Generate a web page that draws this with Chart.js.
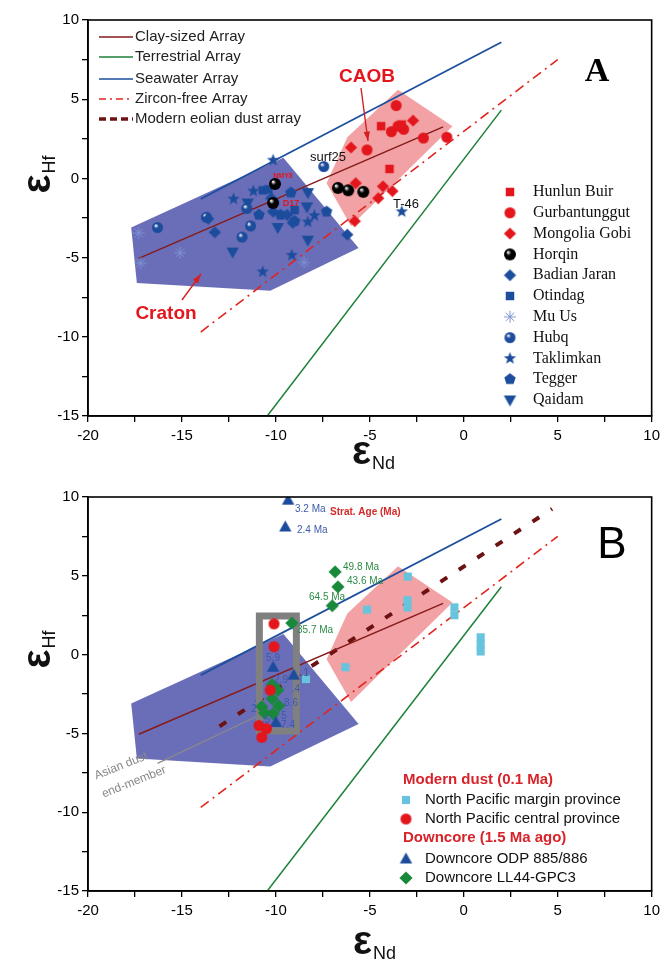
<!DOCTYPE html>
<html lang="en">
<head>
<meta charset="UTF-8" />
<title>εHf vs εNd</title>
<style>
  body { margin: 0; background: #fff; }
  #wrap { position: relative; width: 665px; height: 965px; }
  canvas { position: absolute; left: 0; }
  #chartA { top: 0; }
  #chartB { top: 470px; }
</style>
</head>
<body>
<div id="wrap">
  <canvas id="chartA" width="665" height="470"></canvas>
  <canvas id="chartB" width="665" height="495"></canvas>
</div>

<script src="https://cdn.jsdelivr.net/npm/chart.js@4"></script>
<script>
// ---- reference arrays (εNd on x, εHf on y) ----
const clayX = [-17.3, -1.1],   clayY = [-5.05, 3.25];
const terrX = [-10.46, 2.0],   terrY = [-15, 4.31];
const seaX  = [-14, 2],        seaY  = [-1.3, 8.6];
const zircX = [-14, 5],        zircY = [-9.7, 7.5];
const dustX = [-13, 4.7],      dustY = [-4.55, 9.25];
const asianX = [-16.3, -10.8], asianY = [-6.9, -3.8];

const cratonX = [-17.7, -17.4, -10.3, -5.6, -9.6, -17.7];
const cratonY = [-3.1, -6.6, -7.1, -4.4, 1.3, -3.1];
const caobX = [-3.5, -0.6, -6.0, -7.3, -6.2, -3.5];
const caobY = [5.6, 3.3, -3.0, -0.3, 2.6, 5.6];

// panel A sources
const hunlunX = [-4.4, -3.95, -3.3];            const hunlunY = [3.3, 0.6, 3.4];
const gurbanX = [-3.6, -3.85, -3.2, -5.15, -2.15, -0.9, -3.5];
const gurbanY = [4.6, 2.95, 3.1, 1.8, 2.55, 2.6, 3.3];
const gobiX = [-2.7, -6.0, -5.75, -4.3, -3.8, -4.55, -5.8];
const gobiY = [3.65, 1.95, -0.3, -0.5, -0.8, -1.25, -2.7];
const horqinX = [-6.7, -6.15, -5.35, -10.05, -10.15];
const horqinY = [-0.6, -0.75, -0.85, -0.35, -1.55];
const badianX = [-13.25, -10.25, -9.1, -6.2, -10.15, -13.6, -9.4];
const badianY = [-3.4, -1.25, -2.8, -3.55, -2.1, -2.55, -2.3];
const otindagX = [-10.7, -9.0, -10.4];          const otindagY = [-0.75, -2.0, -0.7];
const muUsX = [-17.3, -15.1, -17.2, -8.5];      const muUsY = [-3.45, -4.7, -5.35, -5.3];
const hubqX = [-16.3, -13.7, -11.35, -11.8, -7.45, -11.55];
const hubqY = [-3.1, -2.45, -3.0, -3.7, 0.75, -1.9];
const taklimX = [-10.15, -12.25, -11.2, -9.15, -10.7, -8.3, -7.95, -3.3];
const taklimY = [1.15, -1.3, -0.8, -4.85, -5.9, -2.75, -2.35, -2.1];
const teggerX = [-9.2, -10.9, -9.75, -7.3, -9.0];
const teggerY = [-0.9, -2.3, -2.3, -2.1, -2.7];
const qaidamX = [-8.3, -11.5, -9.9, -8.3, -12.3, -8.35];
const qaidamY = [-0.9, -1.55, -3.1, -3.9, -4.65, -1.8];

// panel B
const marginX = [-2.98, -5.15, -3.0, -3.0, -0.5, -0.5, 0.9, 0.9, 0.9, -6.3, -8.4];
const marginY = [4.95, 2.85, 3.45, 3.0, 3.0, 2.5, 1.1, 0.65, 0.2, -0.8, -1.55];
const centralX = [-10.1, -10.1, -10.3, -10.9, -10.5, -10.75];
const centralY = [1.95, 0.5, -2.25, -4.5, -4.7, -5.25];
const odpX = [-9.35, -9.5, -10.15, -9.05, -10.0];
const odpY = [9.8, 8.1, -0.8, -1.3, -4.3];
const gpcX = [-6.85, -6.7, -7.0, -9.15, -10.2, -9.9, -10.2, -9.85, -10.75, -10.6, -10.15];
const gpcY = [5.25, 4.3, 3.1, 2.0, -1.9, -2.25, -2.8, -3.25, -3.3, -3.7, -3.75];
const boxX = [-10.88, -8.91, -8.91, -10.88, -10.88];
const boxY = [2.45, 2.45, -4.85, -4.85, 2.45];

const xTicks = [-20, -15, -10, -5, 0, 5, 10];
const yTicks = [-15, -10, -5, 0, 5, 10];

// ---- colours ----
const RED = '#e3161d', BLUE = '#1c4c9c', GREEN = '#18883a', CYAN = '#68c3dc';
const clayCol = '#861b1b', terrCol = '#1d8038', seaCol = '#1d4f9e', zircCol = '#e2241e', dustCol = '#6c1212';

// ---- marker images ----
function mk(kind, color, r) {
  const s = Math.ceil(2 * r + 4);
  const c = document.createElement('canvas');
  c.width = s; c.height = s;
  const g = c.getContext('2d');
  const m = s / 2;
  g.fillStyle = color; g.strokeStyle = color;
  g.beginPath();
  if (kind === 'circle') g.arc(m, m, r, 0, Math.PI * 2);
  else if (kind === 'square') g.rect(m - r * 0.85, m - r * 0.85, r * 1.7, r * 1.7);
  else if (kind === 'diamond') { g.moveTo(m, m - r * 1.1); g.lineTo(m + r * 1.1, m); g.lineTo(m, m + r * 1.1); g.lineTo(m - r * 1.1, m); }
  else if (kind === 'up') { g.moveTo(m, m - r); g.lineTo(m + r * 0.95, m + r * 0.7); g.lineTo(m - r * 0.95, m + r * 0.7); }
  else if (kind === 'down') { g.moveTo(m, m + r); g.lineTo(m + r * 0.95, m - r * 0.7); g.lineTo(m - r * 0.95, m - r * 0.7); }
  else if (kind === 'pentagon' || kind === 'star') {
    const n = kind === 'star' ? 10 : 5;
    for (let i = 0; i < n; i++) {
      const a = -Math.PI / 2 + i * 2 * Math.PI / n;
      const rr = kind === 'star' && i % 2 ? r * 0.42 : r;
      g.lineTo(m + rr * Math.cos(a), m + rr * Math.sin(a));
    }
  } else if (kind === 'asterisk') {
    g.lineWidth = 1;
    for (let i = 0; i < 4; i++) {
      const a = i * Math.PI / 4;
      g.moveTo(m - r * Math.cos(a), m - r * Math.sin(a));
      g.lineTo(m + r * Math.cos(a), m + r * Math.sin(a));
    }
    g.stroke();
    return c;
  } else if (kind === 'ball') {
    const gr = g.createRadialGradient(m - r * 0.35, m - r * 0.4, r * 0.05, m, m, r);
    gr.addColorStop(0, '#ffffff');
    gr.addColorStop(0.4, color);
    gr.addColorStop(1, color);
    g.fillStyle = gr;
    g.arc(m, m, r, 0, Math.PI * 2);
  }
  g.closePath();
  g.fill();
  return c;
}

const imgHunlun = mk('square', RED, 5);
const imgGurban = mk('circle', RED, 5.5);
const imgGobi = mk('diamond', RED, 5.5);
const imgHorqin = mk('ball', '#000', 6);
const imgBadian = mk('diamond', BLUE, 5.5);
const imgOtindag = mk('square', BLUE, 5);
const imgMuUs = mk('asterisk', '#7f92d2', 6);
const imgHubq = mk('ball', BLUE, 5.5);
const imgTaklim = mk('star', BLUE, 6.5);
const imgTegger = mk('pentagon', BLUE, 6);
const imgQaidam = mk('down', BLUE, 6.5);
const imgMargin = mk('square', CYAN, 4.8);
const imgCentral = mk('circle', RED, 5.5);
const imgOdp = mk('up', BLUE, 6.5);
const imgGpc = mk('diamond', GREEN, 6);

// ---- dataset helpers ----
function pts(xs, ys) { return xs.map((x, i) => ({ x: x, y: ys[i] })); }
function marks(xs, ys, img) {
  return { data: pts(xs, ys), pointStyle: img, pointRadius: 6, showLine: false, order: 0 };
}
function line(xs, ys, color, width, dash) {
  return { data: pts(xs, ys), showLine: true, borderColor: color, borderWidth: width,
           borderDash: dash || [], pointRadius: 0, fill: false, order: 1 };
}
function poly(xs, ys, color) {
  return { data: pts(xs, ys), showLine: true, borderWidth: 0, borderColor: 'rgba(0,0,0,0)',
           backgroundColor: color, fill: 'shape', pointRadius: 0, order: 3 };
}

function scales(xAxisH) {
  const tickFont = { family: '"Liberation Sans", Arial, sans-serif', size: 15 };
  const cb = v => (Math.abs(v % 5) < 1e-9 ? v : '');
  return {
    x: {
      type: 'linear', min: xTicks[0], max: xTicks[xTicks.length - 1],
      ticks: { stepSize: 2.5, autoSkip: false, maxRotation: 0, callback: cb, font: tickFont, color: '#000', padding: 5 },
      grid: { drawOnChartArea: false, color: '#000', tickLength: 6, lineWidth: 1.3 },
      border: { color: '#000', width: 1.6 },
      afterFit: s => { s.height = xAxisH; }
    },
    y: {
      type: 'linear', min: yTicks[0], max: yTicks[yTicks.length - 1],
      ticks: { stepSize: 2.5, autoSkip: false, callback: cb, font: tickFont, color: '#000', padding: 3 },
      grid: { drawOnChartArea: false, color: '#000', tickLength: 6, lineWidth: 1.3 },
      border: { color: '#000', width: 1.6 },
      afterFit: s => { s.width = 88; }
    }
  };
}

// ---- drawing helpers for decorations ----
function txt(ctx, s, x, y, font, color, align, rot) {
  ctx.save();
  ctx.translate(x, y);
  if (rot) ctx.rotate(rot);
  ctx.font = font; ctx.fillStyle = color;
  ctx.textAlign = align || 'center'; ctx.textBaseline = 'middle';
  ctx.fillText(s, 0, 0);
  ctx.restore();
}
function arrow(ctx, x1, y1, x2, y2, color) {
  ctx.save();
  ctx.strokeStyle = color; ctx.fillStyle = color; ctx.lineWidth = 1.4;
  ctx.beginPath(); ctx.moveTo(x1, y1); ctx.lineTo(x2, y2); ctx.stroke();
  const a = Math.atan2(y2 - y1, x2 - x1);
  ctx.beginPath();
  ctx.moveTo(x2, y2);
  ctx.lineTo(x2 - 10 * Math.cos(a - 0.32), y2 - 10 * Math.sin(a - 0.32));
  ctx.lineTo(x2 - 10 * Math.cos(a + 0.32), y2 - 10 * Math.sin(a + 0.32));
  ctx.closePath(); ctx.fill();
  ctx.restore();
}
function epsTitle(ctx, x, y, sub, rotate) {
  ctx.save();
  ctx.translate(x, y);
  if (rotate) ctx.rotate(-Math.PI / 2);
  ctx.fillStyle = '#111';
  ctx.textAlign = 'left'; ctx.textBaseline = 'alphabetic';
  const big = 'bold 40px "Liberation Sans", Arial, sans-serif';
  const sm = '18px "Liberation Sans", Arial, sans-serif';
  ctx.font = big;
  const w1 = ctx.measureText('ε').width;
  ctx.font = sm;
  const w2 = ctx.measureText(sub).width;
  const start = -(w1 + w2) / 2;
  ctx.font = big;
  ctx.fillText('ε', start, 0);
  ctx.font = sm;
  ctx.fillText(sub, start + w1 + 1, 5);
  ctx.restore();
}
function frame(chart) {
  const { ctx, chartArea: a } = chart;
  ctx.save();
  ctx.strokeStyle = '#000'; ctx.lineWidth = 1.6;
  ctx.strokeRect(a.left, a.top, a.right - a.left, a.bottom - a.top);
  ctx.restore();
}

const SANS = '"Liberation Sans", Arial, sans-serif';
const SERIF = '"Liberation Serif", "Times New Roman", serif';

const decoA = {
  id: 'decoA',
  afterDatasetsDraw(chart) {
    const ctx = chart.ctx;
    frame(chart);
    // line legend
    const items = [
      ['Clay-sized Array', clayCol, 1.5, []],
      ['Terrestrial Array', terrCol, 1.5, []],
      ['Seawater Array', seaCol, 1.5, []],
      ['Zircon-free Array', zircCol, 1.5, [7, 4, 2, 4]],
      ['Modern eolian dust array', dustCol, 3.5, [7, 4]]
    ];
    const rows = [37, 57, 79, 99, 119];
    items.forEach((it, i) => {
      ctx.save();
      ctx.strokeStyle = it[1]; ctx.lineWidth = it[2]; ctx.setLineDash(it[3]);
      ctx.beginPath(); ctx.moveTo(99, rows[i]); ctx.lineTo(133, rows[i]); ctx.stroke();
      ctx.restore();
      txt(ctx, it[0], 135, rows[i], '15px ' + SANS, '#222', 'left');
    });
    // marker legend
    const mItems = [
      ['Hunlun Buir', imgHunlun], ['Gurbantunggut', imgGurban], ['Mongolia Gobi', imgGobi],
      ['Horqin', imgHorqin], ['Badian Jaran', imgBadian], ['Otindag', imgOtindag],
      ['Mu Us', imgMuUs], ['Hubq', imgHubq], ['Taklimkan', imgTaklim],
      ['Tegger', imgTegger], ['Qaidam', imgQaidam]
    ];
    mItems.forEach((it, i) => {
      const y = 192 + i * 20.8;
      ctx.drawImage(it[1], 510 - it[1].width / 2, y - it[1].height / 2);
      txt(ctx, it[0], 533, y, '16px ' + SERIF, '#111', 'left');
    });
    // annotations
    txt(ctx, 'CAOB', 367, 77, 'bold 19px ' + SANS, RED);
    arrow(ctx, 361, 88, 368, 141, '#d42020');
    txt(ctx, 'Craton', 166, 314, 'bold 19px ' + SANS, RED);
    arrow(ctx, 182, 300, 201, 274, '#d42020');
    txt(ctx, 'surf25', 328, 157, '13px ' + SANS, '#111');
    txt(ctx, 'NMY8', 283, 176, 'bold 7px ' + SANS, RED);
    txt(ctx, 'D17', 291, 204, 'bold 9px ' + SANS, RED);
    txt(ctx, 'T-46', 406, 204, '13px ' + SANS, '#111');
    txt(ctx, 'A', 597, 72, 'bold 34px ' + SERIF, '#000');
    epsTitle(ctx, 373, 464, 'Nd', false);
    epsTitle(ctx, 50, 175, 'Hf', true);
  }
};

const decoB = {
  id: 'decoB',
  afterDatasetsDraw(chart) {
    const ctx = chart.ctx;
    frame(chart);
    const blueT = '#3b5aa8', greenT = '#2d8a45';
    txt(ctx, 'Strat. Age (Ma)', 330, 42, 'bold 10px ' + SANS, '#d32a2a', 'left');
    txt(ctx, '3.2 Ma', 295, 39, '10px ' + SANS, blueT, 'left');
    txt(ctx, '2.4 Ma', 297, 60, '10px ' + SANS, blueT, 'left');
    txt(ctx, '49.8 Ma', 343, 97, '10px ' + SANS, greenT, 'left');
    txt(ctx, '43.6 Ma', 347, 111, '10px ' + SANS, greenT, 'left');
    txt(ctx, '64.5 Ma', 309, 127, '10px ' + SANS, greenT, 'left');
    txt(ctx, '35.7 Ma', 297, 160, '10px ' + SANS, greenT, 'left');
    const small = [['5.9', 273, 188], ['2.9', 281, 210], ['.4', 296, 219], ['8.6', 291, 233],
                   ['2', 254, 239], ['5', 284, 246], ['.5', 266, 250], ['7.4', 288, 255], ['.1', 305, 203]];
    small.forEach(s => txt(ctx, s[0], s[1], s[2], '10px ' + SANS, blueT));
    txt(ctx, 'Asian dust', 121, 296, '12px ' + SANS, '#888', 'center', -0.38);
    txt(ctx, 'end-member', 134, 312, '12px ' + SANS, '#888', 'center', -0.38);
    txt(ctx, 'B', 612, 76, '44px ' + SANS, '#000');
    // legend
    txt(ctx, 'Modern dust (0.1 Ma)', 403, 310, 'bold 15px ' + SANS, '#d8232a', 'left');
    ctx.drawImage(imgMargin, 406 - imgMargin.width / 2, 330 - imgMargin.height / 2);
    txt(ctx, 'North Pacific margin province', 425, 330, '15px ' + SANS, '#111', 'left');
    ctx.drawImage(imgCentral, 406 - imgCentral.width / 2, 349 - imgCentral.height / 2);
    txt(ctx, 'North Pacific central province', 425, 349, '15px ' + SANS, '#111', 'left');
    txt(ctx, 'Downcore (1.5 Ma ago)', 403, 368, 'bold 15px ' + SANS, '#d8232a', 'left');
    ctx.drawImage(imgOdp, 406 - imgOdp.width / 2, 389 - imgOdp.height / 2);
    txt(ctx, 'Downcore ODP 885/886', 425, 389, '15px ' + SANS, '#111', 'left');
    ctx.drawImage(imgGpc, 406 - imgGpc.width / 2, 408 - imgGpc.height / 2);
    txt(ctx, 'Downcore LL44-GPC3', 425, 408, '15px ' + SANS, '#111', 'left');
    epsTitle(ctx, 374, 484, 'Nd', false);
    epsTitle(ctx, 50, 180, 'Hf', true);
  }
};

function makeChart(id, padTop, xAxisH, datasets, deco) {
  return new Chart(document.getElementById(id), {
    type: 'scatter',
    data: { datasets: datasets },
    options: {
      responsive: false, animation: false, devicePixelRatio: 1,
      layout: { padding: { top: padTop, right: 13, left: 0, bottom: 0 } },
      plugins: { legend: { display: false }, tooltip: { enabled: false } },
      scales: scales(xAxisH)
    },
    plugins: [deco]
  });
}

const PINK = '#f2a2a4', CRATON = '#6a6eb8';

makeChart('chartA', 20, 54, [
  poly(cratonX, cratonY, CRATON),
  poly(caobX, caobY, PINK),
  line(clayX, clayY, clayCol, 1.5),
  line(terrX, terrY, terrCol, 1.5),
  line(seaX, seaY, seaCol, 1.8),
  line(zircX, zircY, zircCol, 1.6, [10, 5, 2, 5]),
  marks(hunlunX, hunlunY, imgHunlun),
  marks(gurbanX, gurbanY, imgGurban),
  marks(gobiX, gobiY, imgGobi),
  marks(horqinX, horqinY, imgHorqin),
  marks(badianX, badianY, imgBadian),
  marks(otindagX, otindagY, imgOtindag),
  marks(muUsX, muUsY, imgMuUs),
  marks(hubqX, hubqY, imgHubq),
  marks(taklimX, taklimY, imgTaklim),
  marks(teggerX, teggerY, imgTegger),
  marks(qaidamX, qaidamY, imgQaidam)
], decoA);

const boxSet = line(boxX, boxY, '#808080', 7);
boxSet.order = 0.5;
boxSet.borderJoinStyle = 'miter';
boxSet.borderCapStyle = 'square';

makeChart('chartB', 27, 74, [
  poly(cratonX, cratonY, CRATON),
  poly(caobX, caobY, PINK),
  line(clayX, clayY, clayCol, 1.5),
  line(terrX, terrY, terrCol, 1.5),
  line(seaX, seaY, seaCol, 1.8),
  line(zircX, zircY, zircCol, 1.6, [10, 5, 2, 5]),
  line(dustX, dustY, dustCol, 4, [8, 14]),
  line(asianX, asianY, '#8a8a8a', 1.2),
  boxSet,
  marks(marginX, marginY, imgMargin),
  marks(centralX, centralY, imgCentral),
  marks(odpX, odpY, imgOdp),
  marks(gpcX, gpcY, imgGpc)
], decoB);
</script>
</body>
</html>
